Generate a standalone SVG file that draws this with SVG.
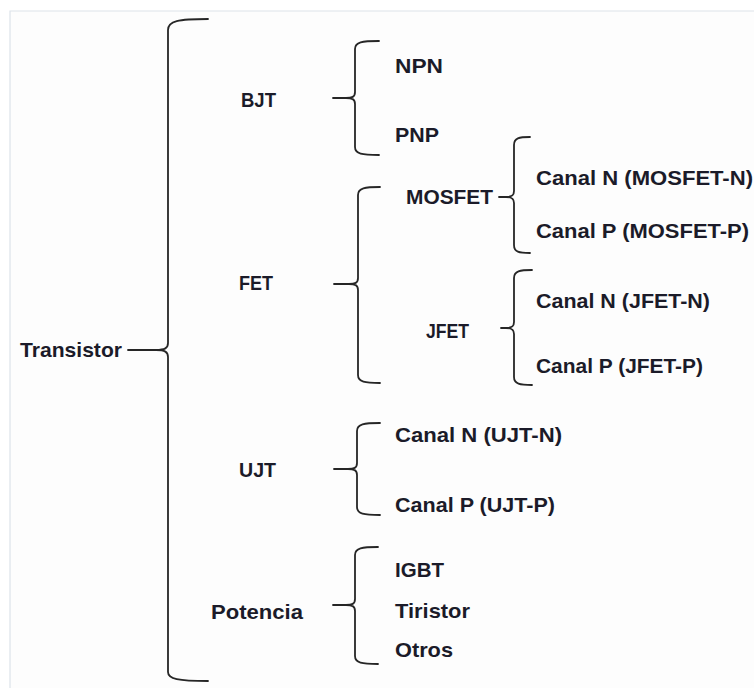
<svg xmlns="http://www.w3.org/2000/svg" width="754" height="688" viewBox="0 0 754 688">
<style>
  .t { font-family: "Liberation Sans", Arial, sans-serif; font-weight: bold; font-size: 21px; fill: #1b1b29; }
  .b { fill: none; stroke: #262626; stroke-width: 1.8; stroke-linecap: round; stroke-linejoin: round; }
  .frame { fill: none; stroke: #dde3ea; stroke-width: 1.2; }
</style>
<rect x="0" y="0" width="754" height="688" fill="#ffffff"/>
<rect x="10" y="11" width="744" height="677" fill="#fdfdfd"/>
<path class="frame" d="M10,688 L10,11 L754,11"/>

<g id="connectors">
  <!-- main brace -->
  <path class="b" d="M208,19 C178,19 168,21 168,30 L168,343 C168,348 165,350 156,350 M156,350 C165,350 168,352 168,357 L168,672 C168,679 178,681 208,681 M128,350 L156,350"/>
  <!-- BJT -->
  <path class="b" d="M379,41 C362,41 355,42 355,49 L355,92 C355,97 352,98 346,98 M346,98 C352,98 355,99 355,104 L355,147 C355,154 362,155 379,155 M333,98 L346,98"/>
  <!-- FET -->
  <path class="b" d="M380,187 C365,187 358,188 358,195 L358,278 C358,283 355,284 349,284 M349,284 C355,284 358,285 358,290 L358,375 C358,382 365,383 380,383 M334,284 L349,284"/>
  <!-- MOSFET -->
  <path class="b" d="M530,137 C519,137 514,138 514,145 L514,191 C514,196 511,197 506,197 M506,197 C511,197 514,198 514,203 L514,245 C514,252 519,253 530,253 M499,197 L506,197"/>
  <!-- JFET -->
  <path class="b" d="M532,270 C520,270 514,271 514,278 L514,322 C514,327 511,328 506,328 M506,328 C511,328 514,329 514,334 L514,377 C514,384 520,385 532,385 M501,328 L506,328"/>
  <!-- UJT -->
  <path class="b" d="M380,423 C364,423 357,424 357,431 L357,463 C357,468 354,469 348,469 M348,469 C354,469 357,470 357,475 L357,507 C357,514 364,515 380,515 M334,469 L348,469"/>
  <!-- Potencia -->
  <path class="b" d="M378,547 C362,547 355,548 355,555 L355,599 C355,604 352,605 346,605 M346,605 C352,605 355,606 355,611 L355,656 C355,663 362,664 378,664 M333,605 L346,605"/>
</g>

<g id="transistor"><text class="t" x="20" y="357" textLength="102" lengthAdjust="spacingAndGlyphs">Transistor</text></g>
<g id="bjt"><text class="t" x="241" y="107" textLength="35" lengthAdjust="spacingAndGlyphs">BJT</text></g>
<g id="npn"><text class="t" x="395" y="73" textLength="48" lengthAdjust="spacingAndGlyphs">NPN</text></g>
<g id="pnp"><text class="t" x="395" y="142" textLength="44" lengthAdjust="spacingAndGlyphs">PNP</text></g>
<g id="fet"><text class="t" x="239" y="290" textLength="34" lengthAdjust="spacingAndGlyphs">FET</text></g>
<g id="mosfet"><text class="t" x="406" y="204" textLength="87" lengthAdjust="spacingAndGlyphs">MOSFET</text></g>
<g id="mosfet-n"><text class="t" x="536" y="185" textLength="217" lengthAdjust="spacingAndGlyphs">Canal N (MOSFET-N)</text></g>
<g id="mosfet-p"><text class="t" x="536" y="238" textLength="213" lengthAdjust="spacingAndGlyphs">Canal P (MOSFET-P)</text></g>
<g id="jfet"><text class="t" x="426" y="338" textLength="43" lengthAdjust="spacingAndGlyphs">JFET</text></g>
<g id="jfet-n"><text class="t" x="536" y="308" textLength="174" lengthAdjust="spacingAndGlyphs">Canal N (JFET-N)</text></g>
<g id="jfet-p"><text class="t" x="536" y="373" textLength="167" lengthAdjust="spacingAndGlyphs">Canal P (JFET-P)</text></g>
<g id="ujt"><text class="t" x="239" y="477" textLength="37" lengthAdjust="spacingAndGlyphs">UJT</text></g>
<g id="ujt-n"><text class="t" x="395" y="442" textLength="167" lengthAdjust="spacingAndGlyphs">Canal N (UJT-N)</text></g>
<g id="ujt-p"><text class="t" x="395" y="512" textLength="160" lengthAdjust="spacingAndGlyphs">Canal P (UJT-P)</text></g>
<g id="potencia"><text class="t" x="211" y="619" textLength="92" lengthAdjust="spacingAndGlyphs">Potencia</text></g>
<g id="igbt"><text class="t" x="395" y="577" textLength="49" lengthAdjust="spacingAndGlyphs">IGBT</text></g>
<g id="tiristor"><text class="t" x="395" y="618" textLength="75" lengthAdjust="spacingAndGlyphs">Tiristor</text></g>
<g id="otros"><text class="t" x="395" y="657" textLength="58" lengthAdjust="spacingAndGlyphs">Otros</text></g>
</svg>
